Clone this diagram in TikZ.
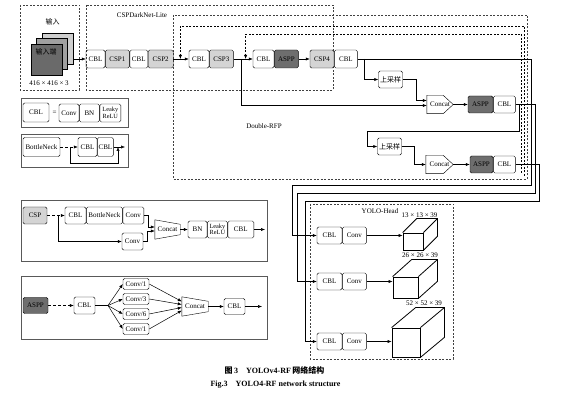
\documentclass[tikz,border=0pt]{standalone}
\usepackage{fontspec}
\setmainfont{Liberation Serif}
\newfontfamily\cjk{Noto Sans CJK SC}
\usetikzlibrary{positioning,arrows.meta}
\definecolor{cspgray}{HTML}{D4D4D4}
\definecolor{asppgray}{HTML}{6E6E6E}
\definecolor{inlight}{HTML}{CFCFCF}
\definecolor{inmid}{HTML}{A0A0A0}
\definecolor{indark}{HTML}{6A6A6A}
\newcommand{\figfs}{\fontsize{7}{7.5}\selectfont}
\newcommand{\figsm}{\fontsize{6.3}{6.6}\selectfont}
% concat outlines
\newcommand{\sigcat}[1]{\draw (#1.north west) -- ([xshift=-10pt]#1.north east) -- (#1.east) -- ([xshift=-10pt]#1.south east) -- (#1.south west) -- cycle;}
\newcommand{\trapcat}[1]{\draw (#1.north west) -- ([yshift=-4.5pt]#1.north east) -- ([yshift=4.5pt]#1.south east) -- (#1.south west) -- cycle;}
% cuboid top and side
\newcommand{\cubeside}[3]{\draw[cubel] (#1.north west) -- ++(#2,-#3) -| ([shift={(#2,-#3)}]#1.south east) -- (#1.south east) (#1.north east) -- ++(#2,-#3);}

\begin{document}
\begin{tikzpicture}[x=1pt,y=-1pt,
    cbox/.style={draw, rounded corners=1.5pt, inner sep=0pt, minimum height=18, font=\figfs},
    cspbox/.style={cbox, fill=cspgray},
    asppbox/.style={cbox, fill=asppgray},
    catnode/.style={inner sep=0pt, minimum height=18, font=\figfs},
    txt/.style={inner sep=0pt, font=\figfs},
    dashframe/.style={draw=black!75, line width=0.5pt, dash pattern=on 2pt off 1.5pt},
    panelframe/.style={draw=black!65, line width=0.9pt},
    arr/.style={-{Latex[length=4pt,width=3.2pt]}, line width=0.5pt},
    dsh/.style={arr, dash pattern=on 3pt off 2pt},
    fbk/.style={arr, dash pattern=on 2pt off 1.5pt},
    cubef/.style={draw, line width=0.8pt, inner sep=0pt},
    cubel/.style={line width=0.8pt}]
\useasboundingbox (0,0) rectangle (584,403);

% dashed groups
\draw[dashframe] (20,5) rectangle (79,90);
\draw[dashframe] (86,5) rectangle (333,90);
\draw[dashframe] (173,15) rectangle (527,179);
\draw[dashframe] (310,204) rectangle (453,359);
\node[txt] (tin) at (52.5,22) {\cjk 输入};
\node[txt] (tcsp) at (142,15) {CSPDarkNet-Lite};
\node[txt] (trfp) at (264,126) {Double-RFP};
\node[txt] (thd) at (380,211) {YOLO-Head};

% input stack
\node[draw, fill=inlight, minimum size=31, inner sep=0pt] (sq3) at (57.5,48.5) {};
\node[draw, fill=inmid, minimum size=31, inner sep=0pt] (sq2) at (52,54) {};
\node[draw, fill=indark, minimum size=31, inner sep=0pt] (sq1) at (46.5,59.5) {};
\node[txt] (tend) at (46,51.5) {\cjk 输入端};
\node[txt] (tdim) at (49,83) {416 × 416 × 3};

% backbone row
\node[cbox, minimum width=19] (cb1) at (95.5,59) {CBL};
\node[cspbox, minimum width=24, right=0pt of cb1] (cs1) {CSP1};
\node[cbox, minimum width=18, right=0pt of cs1] (cb2) {CBL};
\node[cspbox, minimum width=25, right=0pt of cb2] (cs2) {CSP2};
\node[cbox, minimum width=20] (cb3) at (199,59) {CBL};
\node[cspbox, minimum width=24, right=0pt of cb3] (cs3) {CSP3};
\node[cbox, minimum width=21] (cb4) at (263.5,59) {CBL};
\node[asppbox, minimum width=24, right=0pt of cb4] (ap1) {ASPP};
\node[cspbox, minimum width=24] (cs4) at (322,59) {CSP4};
\node[cbox, minimum width=23, right=0pt of cs4] (cb5) {CBL};

% feature pyramid
\node[cbox, minimum width=24, minimum height=17] (up1) at (390.5,79.5) {\cjk 上采样};
\node[catnode, minimum width=26] (cc1) at (440,104.5) {Concat};
\node[asppbox, minimum width=25, minimum height=17] (ap2) at (480.5,104.5) {ASPP};
\node[cbox, minimum width=22, minimum height=17, right=0pt of ap2] (cb6) {CBL};
\node[cbox, minimum width=24, minimum height=17] (up2) at (389.5,146.5) {\cjk 上采样};
\node[catnode, minimum width=27] (cc2) at (439.5,164.5) {Concat};
\node[asppbox, minimum width=23, minimum height=17] (ap3) at (481.5,164.5) {ASPP};
\node[cbox, minimum width=22, minimum height=17, right=0pt of ap3] (cb7) {CBL};
\sigcat{cc1}
\sigcat{cc2}

\draw[arr] (sq3.east |- cb1.west) -- (cb1.west);
\draw[arr] (cs2.east) -- (cb3.west);
\draw[arr] (cs3.east) -- (cb4.west);
\draw[arr] (ap1.east) -- (cs4.west);
\draw[arr] ([xshift=8pt]cs3.east) |- ([yshift=-1pt]cc1.west);
\draw[arr] ([xshift=7pt]cb5.east) |- (up1.west);
\draw[arr] (up1.east) -- ++(14,0) |- ([yshift=4pt]cc1.west);
\draw[arr] (cc1.east) -- (ap2.west);
\coordinate (k1) at (367,131);
\draw[arr] ([xshift=4pt]cb6.east) |- (k1) |- (up2.west);
\draw[arr] (up2.east) -- ++(13,0) |- (cc2.west);
\draw[arr] (cc2.east) -- (ap3.west);

% feedback loops
\coordinate (f1) at (524,176);
\coordinate (f2) at (521,173);
\coordinate (fa) at ([xshift=7pt]cs2.east);
\coordinate (fb) at ([xshift=12pt]cs3.east);
\draw[fbk] (f1) |- ([yshift=33pt]fa) -- (fa);
\draw[fbk] (f2) |- ([yshift=25pt]fb) -- (fb);

% heads
\node[cbox, minimum width=25, minimum height=17] (h1) at (329.5,235.5) {CBL};
\node[cbox, minimum width=24, minimum height=17, right=0pt of h1] (hv1) {Conv};
\node[cbox, minimum width=25, minimum height=17] (h2) at (329.5,281.5) {CBL};
\node[cbox, minimum width=24, minimum height=17, right=0pt of h2] (hv2) {Conv};
\node[cbox, minimum width=25, minimum height=17] (h3) at (329.5,341.5) {CBL};
\node[cbox, minimum width=24, minimum height=17, right=0pt of h3] (hv3) {Conv};

\node[cubef, minimum width=20, minimum height=17] (q1) at (413,241.5) {};
\node[cubef, minimum width=25, minimum height=21] (q2) at (405.5,287.5) {};
\node[cubef, minimum width=28, minimum height=29] (q3) at (406,342.5) {};
\cubeside{q1}{14}{14}
\cubeside{q2}{19}{17}
\cubeside{q3}{24}{20}
\node[txt] (d1) at (419.5,215) {13 × 13 × 39};
\node[txt] (d2) at (420,255) {26 × 26 × 39};
\node[txt] (d3) at (424,303) {52 × 52 × 39};

\draw[arr] (hv1.east) -- (hv1.east -| q1.west);
\draw[arr] (hv2.east) -- (hv2.east -| q2.west);
\draw[arr] (hv3.east) -- (hv3.east -| q3.west);

\coordinate (r1) at (531,185); \coordinate (s1) at (292,185);
\coordinate (r2) at (535,193); \coordinate (s2) at (297,193);
\coordinate (r3) at (539,201); \coordinate (s3) at (305,201);
\draw[arr] (cb5.east) -| (r1) -- (s1) |- (h1.west);
\draw[arr] (cb6.east) -| (r2) -- (s2) |- (h2.west);
\draw[arr] (cb7.east) -| (r3) -- (s3) |- (h3.west);

% legend: CBL
\draw[panelframe] (21,98) rectangle (128,127);
\node[cbox, minimum width=26, minimum height=19] (lg1) at (36,112.5) {CBL};
\node[txt] (leq) at (54.5,112.5) {=};
\node[cbox, minimum width=20] (lg2) at (69,113) {Conv};
\node[cbox, minimum width=20, right=0pt of lg2] (lg3) {BN};
\node[cbox, minimum width=21, right=0pt of lg3, align=center, font=\figsm] (lg4) {Leaky\\ReLU};

% legend: BottleNeck
\draw[panelframe] (21,134) rectangle (128,167);
\node[cbox, minimum width=37, minimum height=19] (bn0) at (41.5,147) {BottleNeck};
\node[cbox, minimum width=19, minimum height=19] (lc1) at (87.5,147) {CBL};
\node[cbox, minimum width=16, minimum height=19, right=0pt of lc1] (lc2) {CBL};
\coordinate (rs) at (118,163);
\coordinate (lo) at (125,147);
\draw[dsh] (bn0.east) -- (lc1.west);
\draw[arr] ([xshift=-8pt]lc1.west) |- (rs) -- (rs |- lc2.east);
\draw[arr] (lc2.east) -- (lo);

% legend: CSP
\draw[panelframe] (21,200) rectangle (267,261);
\node[cspbox, minimum width=24, minimum height=17] (m0) at (35,215.5) {CSP};
\node[cbox, minimum width=21, minimum height=17] (m1) at (75.5,215.5) {CBL};
\node[cbox, minimum width=36, minimum height=17, right=0pt of m1] (m2) {BottleNeck};
\node[cbox, minimum width=21, minimum height=17, right=0pt of m2] (m3) {Conv};
\node[cbox, minimum width=21, minimum height=17] (m4) at (132.5,241.5) {Conv};
\node[catnode, minimum width=25, minimum height=19] (mc) at (167.5,229.5) {Concat};
\trapcat{mc}
\node[cbox, minimum width=19, minimum height=17] (m5) at (197.5,229.5) {BN};
\node[cbox, minimum width=20, minimum height=17, right=0pt of m5, align=center, font=\figsm] (m6) {Leaky\\ReLU};
\node[cbox, minimum width=26, minimum height=17, right=0pt of m6] (m7) {CBL};
\coordinate (mo) at (265,229.5);
\draw[dsh] (m0.east) -- (m1.west);
\draw[arr] ([xshift=-7pt]m1.west) |- (m4.west);
\draw[arr] (m3.east) -- ++(4,0) |- ([yshift=2.5pt]mc.west);
\draw[arr] (m4.east) -- ++(4,0) |- ([yshift=-1.5pt]mc.west);
\draw[arr] (mc.east) -- (m5.west);
\draw[arr] (m7.east) -- (mo);

% legend: ASPP
\draw[panelframe] (21,276) rectangle (267,339);
\node[asppbox, minimum width=25, minimum height=16] (n0) at (35.5,305.5) {ASPP};
\node[cbox, minimum width=21, minimum height=17] (n1) at (84.5,305.5) {CBL};
\coordinate (nf) at (108,305.5);
\node[cbox, minimum width=26, minimum height=11] (v1) at (136,284) {Conv/1};
\node[cbox, minimum width=26, minimum height=11] (v2) at (136,299) {Conv/3};
\node[cbox, minimum width=26, minimum height=11] (v3) at (136,314) {Conv/6};
\node[cbox, minimum width=26, minimum height=11] (v4) at (136,329) {Conv/1};
\node[catnode, minimum width=26, minimum height=19] (nc) at (195,306.5) {Concat};
\trapcat{nc}
\node[cbox, minimum width=21, minimum height=16] (n2) at (234.5,306.5) {CBL};
\coordinate (no) at (262,306.5);
\draw[dsh] (n0.east) -- (n1.west);
\draw (n1.east) -- (nf);
\foreach \v in {v1,v2,v3,v4} {
    \draw[arr] (nf) -- (\v.west);
}
\draw[arr] (v1.east) -- ([yshift=5pt]nc.west);
\draw[arr] (v2.east) -- ([yshift=2pt]nc.west);
\draw[arr] (v3.east) -- ([yshift=-1pt]nc.west);
\draw[arr] (v4.east) -- ([yshift=-4pt]nc.west);
\draw[arr] (nc.east) -- (n2.west);
\draw[arr] (n2.east) -- (no);

% caption
\node[inner sep=0pt, font=\bfseries\fontsize{8}{9}\selectfont] (cap1) at (274.5,370) {{\cjk 图}\,3\quad YOLOv4-RF\,{\cjk 网络结构}};
\node[inner sep=0pt, font=\bfseries\fontsize{8}{9}\selectfont] (cap2) at (275.5,385) {Fig.3\quad YOLO4-RF network structure};
\end{tikzpicture}
\end{document}
